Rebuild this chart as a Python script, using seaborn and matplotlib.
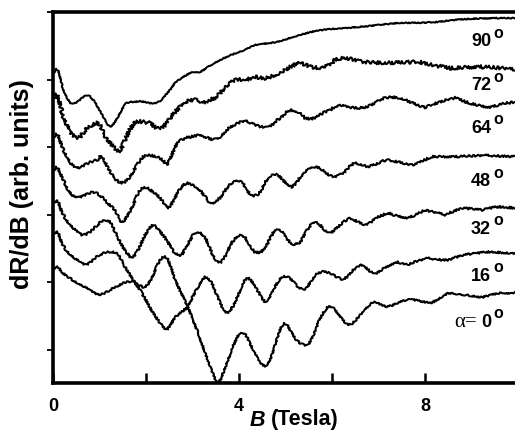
import numpy as np
import pandas as pd
import seaborn as sns
import matplotlib.pyplot as plt

# (field in Tesla, offset dR/dB in arb. units) for each tilt angle alpha
trace_90 = [(0.02, 4.10), (0.07, 4.16), (0.12, 4.12), (0.22, 3.85), (0.30, 3.73), (0.37, 3.65),
            (0.43, 3.64), (0.50, 3.66), (0.58, 3.70), (0.66, 3.75), (0.73, 3.77), (0.80, 3.75),
            (0.90, 3.67), (0.99, 3.56), (1.08, 3.45), (1.16, 3.35), (1.23, 3.30), (1.30, 3.34),
            (1.40, 3.45), (1.49, 3.57), (1.57, 3.65), (1.66, 3.67), (1.76, 3.67), (1.87, 3.68),
            (1.98, 3.67), (2.09, 3.65), (2.19, 3.65), (2.27, 3.67), (2.34, 3.70), (2.43, 3.78),
            (2.52, 3.85), (2.62, 3.95), (2.78, 4.03), (2.95, 4.10), (3.05, 4.11), (3.16, 4.11),
            (3.32, 4.18), (3.48, 4.25), (3.65, 4.31), (3.81, 4.36), (3.97, 4.40), (4.13, 4.44),
            (4.34, 4.51), (4.50, 4.53), (4.67, 4.54), (4.83, 4.56), (4.99, 4.59), (5.15, 4.63),
            (5.31, 4.66), (5.52, 4.70), (5.74, 4.73), (6.00, 4.75), (6.28, 4.76), (6.60, 4.78),
            (7.03, 4.81), (7.46, 4.84), (7.85, 4.84), (8.22, 4.85), (8.60, 4.88), (8.97, 4.90),
            (9.51, 4.91), (9.94, 4.91)]

trace_72 = [(0.02, 3.73), (0.07, 3.79), (0.12, 3.72), (0.22, 3.45), (0.30, 3.32), (0.37, 3.22),
            (0.47, 3.14), (0.58, 3.15), (0.69, 3.25), (0.78, 3.30), (0.84, 3.33), (0.95, 3.36),
            (1.02, 3.31), (1.08, 3.22), (1.15, 3.13), (1.23, 3.06), (1.32, 3.00), (1.40, 2.93),
            (1.47, 2.98), (1.55, 3.11), (1.65, 3.26), (1.76, 3.37), (1.88, 3.38), (1.98, 3.37),
            (2.09, 3.36), (2.17, 3.31), (2.24, 3.28), (2.30, 3.29), (2.37, 3.30), (2.45, 3.36),
            (2.52, 3.43), (2.62, 3.52), (2.73, 3.60), (2.84, 3.67), (2.95, 3.70), (3.05, 3.70),
            (3.16, 3.68), (3.27, 3.67), (3.38, 3.70), (3.48, 3.73), (3.59, 3.80), (3.70, 3.89),
            (3.81, 3.95), (3.91, 3.99), (4.02, 4.00), (4.13, 3.99), (4.24, 4.02), (4.34, 4.04),
            (4.45, 4.03), (4.56, 4.02), (4.67, 4.04), (4.77, 4.07), (4.92, 4.11), (5.01, 4.15),
            (5.10, 4.19), (5.20, 4.22), (5.31, 4.25), (5.42, 4.22), (5.53, 4.19), (5.63, 4.18),
            (5.74, 4.17), (5.85, 4.19), (5.96, 4.22), (6.06, 4.29), (6.17, 4.31), (6.28, 4.32),
            (6.39, 4.31), (6.49, 4.29), (6.60, 4.27), (6.71, 4.26), (6.92, 4.25), (7.14, 4.25),
            (7.35, 4.25), (7.60, 4.26), (7.89, 4.26), (8.20, 4.21), (8.54, 4.17), (8.85, 4.18),
            (9.18, 4.19), (9.45, 4.18), (9.72, 4.17), (9.94, 4.14)]

trace_64 = [(0.02, 3.15), (0.07, 3.20), (0.12, 3.16), (0.22, 2.96), (0.30, 2.86), (0.37, 2.77),
            (0.45, 2.71), (0.52, 2.69), (0.60, 2.70), (0.69, 2.74), (0.80, 2.78), (0.90, 2.80),
            (0.97, 2.82), (1.01, 2.86), (1.06, 2.85), (1.12, 2.78), (1.18, 2.69), (1.26, 2.60),
            (1.33, 2.54), (1.41, 2.49), (1.48, 2.47), (1.55, 2.49), (1.66, 2.56), (1.74, 2.66),
            (1.81, 2.74), (1.88, 2.81), (1.94, 2.86), (2.02, 2.88), (2.09, 2.88), (2.16, 2.87),
            (2.24, 2.86), (2.31, 2.83), (2.37, 2.80), (2.45, 2.74), (2.53, 2.84), (2.62, 3.00),
            (2.70, 3.08), (2.77, 3.11), (2.86, 3.14), (2.95, 3.15), (3.05, 3.17), (3.16, 3.18),
            (3.25, 3.16), (3.33, 3.14), (3.44, 3.11), (3.52, 3.12), (3.59, 3.15), (3.70, 3.23),
            (3.81, 3.30), (3.90, 3.33), (3.98, 3.36), (4.06, 3.38), (4.13, 3.40), (4.24, 3.36),
            (4.34, 3.33), (4.45, 3.30), (4.56, 3.30), (4.64, 3.31), (4.71, 3.33), (4.82, 3.40),
            (4.92, 3.45), (5.02, 3.52), (5.10, 3.55), (5.20, 3.54), (5.31, 3.51), (5.42, 3.43),
            (5.53, 3.42), (5.63, 3.43), (5.74, 3.48), (5.85, 3.52), (5.96, 3.55), (6.06, 3.60),
            (6.17, 3.62), (6.30, 3.60), (6.49, 3.58), (6.60, 3.58), (6.71, 3.59), (6.82, 3.62),
            (6.92, 3.65), (7.03, 3.70), (7.14, 3.73), (7.29, 3.74), (7.46, 3.73), (7.58, 3.70),
            (7.68, 3.67), (7.85, 3.62), (8.00, 3.59), (8.15, 3.63), (8.32, 3.67), (8.50, 3.71),
            (8.65, 3.73), (8.80, 3.69), (8.97, 3.65), (9.20, 3.61), (9.40, 3.59), (9.55, 3.62),
            (9.72, 3.65), (9.94, 3.67)]

trace_48 = [(0.02, 2.66), (0.07, 2.71), (0.12, 2.67), (0.19, 2.56), (0.26, 2.46), (0.32, 2.37),
            (0.40, 2.30), (0.47, 2.26), (0.58, 2.26), (0.69, 2.29), (0.78, 2.32), (0.86, 2.34),
            (0.94, 2.32), (1.01, 2.29), (1.10, 2.23), (1.18, 2.17), (1.29, 2.10), (1.36, 2.03),
            (1.43, 1.94), (1.48, 1.89), (1.54, 1.92), (1.61, 2.00), (1.67, 2.07), (1.72, 2.14),
            (1.78, 2.24), (1.83, 2.32), (1.89, 2.38), (1.94, 2.40), (2.02, 2.40), (2.09, 2.37),
            (2.17, 2.33), (2.24, 2.29), (2.31, 2.24), (2.37, 2.19), (2.43, 2.12), (2.48, 2.10),
            (2.54, 2.15), (2.62, 2.25), (2.72, 2.37), (2.82, 2.45), (2.90, 2.47), (2.98, 2.45),
            (3.08, 2.40), (3.16, 2.37), (3.26, 2.28), (3.34, 2.20), (3.42, 2.17), (3.50, 2.20),
            (3.59, 2.25), (3.70, 2.36), (3.80, 2.45), (3.90, 2.49), (4.00, 2.50), (4.08, 2.47),
            (4.16, 2.38), (4.24, 2.30), (4.32, 2.28), (4.40, 2.30), (4.48, 2.36), (4.56, 2.48),
            (4.64, 2.56), (4.74, 2.60), (4.84, 2.59), (4.94, 2.52), (5.04, 2.44), (5.14, 2.41),
            (5.22, 2.46), (5.32, 2.56), (5.42, 2.63), (5.53, 2.69), (5.63, 2.71), (5.74, 2.69),
            (5.85, 2.63), (5.96, 2.58), (6.06, 2.56), (6.17, 2.59), (6.28, 2.64), (6.40, 2.73),
            (6.49, 2.77), (6.60, 2.75), (6.77, 2.71), (6.95, 2.75), (7.10, 2.80), (7.20, 2.81),
            (7.35, 2.79), (7.46, 2.78), (7.60, 2.75), (7.78, 2.74), (7.95, 2.80), (8.15, 2.86),
            (8.40, 2.86), (8.65, 2.86), (8.95, 2.87), (9.29, 2.88), (9.60, 2.87), (9.94, 2.86)]

trace_32 = [(0.02, 2.18), (0.07, 2.22), (0.12, 2.18), (0.19, 2.04), (0.28, 1.93), (0.37, 1.85),
            (0.50, 1.76), (0.62, 1.70), (0.72, 1.71), (0.80, 1.75), (0.88, 1.80), (0.95, 1.85),
            (1.04, 1.90), (1.12, 1.92), (1.18, 1.92), (1.23, 1.89), (1.28, 1.83), (1.33, 1.75),
            (1.40, 1.66), (1.48, 1.55), (1.57, 1.45), (1.66, 1.38), (1.73, 1.38), (1.81, 1.45),
            (1.90, 1.58), (1.98, 1.70), (2.07, 1.80), (2.15, 1.85), (2.22, 1.82), (2.30, 1.75),
            (2.39, 1.68), (2.47, 1.60), (2.55, 1.50), (2.62, 1.43), (2.70, 1.40), (2.77, 1.41),
            (2.86, 1.52), (2.95, 1.63), (3.03, 1.72), (3.10, 1.75), (3.18, 1.73), (3.27, 1.67),
            (3.35, 1.55), (3.42, 1.43), (3.49, 1.34), (3.55, 1.29), (3.62, 1.30), (3.70, 1.38),
            (3.81, 1.55), (3.90, 1.64), (3.98, 1.69), (4.06, 1.70), (4.13, 1.67), (4.20, 1.59),
            (4.27, 1.50), (4.34, 1.45), (4.45, 1.44), (4.56, 1.50), (4.66, 1.64), (4.77, 1.78),
            (4.85, 1.78), (4.92, 1.75), (5.02, 1.66), (5.10, 1.58), (5.20, 1.56), (5.31, 1.59),
            (5.45, 1.76), (5.59, 1.89), (5.67, 1.88), (5.74, 1.85), (5.85, 1.77), (5.96, 1.73),
            (6.10, 1.80), (6.25, 1.90), (6.39, 1.95), (6.55, 1.90), (6.71, 1.85), (6.85, 1.90),
            (7.00, 1.97), (7.20, 2.03), (7.35, 1.99), (7.50, 1.97), (7.63, 1.95), (7.80, 2.00),
            (8.00, 2.07), (8.20, 2.04), (8.43, 2.00), (8.60, 2.05), (8.80, 2.10), (9.00, 2.09),
            (9.23, 2.07), (9.40, 2.10), (9.57, 2.12), (9.75, 2.11), (9.94, 2.10)]

trace_16 = [(0.02, 1.72), (0.07, 1.76), (0.12, 1.72), (0.19, 1.58), (0.28, 1.48), (0.37, 1.41),
            (0.48, 1.35), (0.58, 1.30), (0.66, 1.27), (0.73, 1.26), (0.81, 1.30), (0.90, 1.36),
            (1.00, 1.41), (1.08, 1.43), (1.18, 1.45), (1.27, 1.45), (1.34, 1.44), (1.40, 1.41),
            (1.48, 1.32), (1.55, 1.23), (1.64, 1.13), (1.72, 1.04), (1.80, 0.96), (1.87, 0.89),
            (1.98, 0.76), (2.09, 0.62), (2.20, 0.50), (2.30, 0.40), (2.38, 0.33), (2.45, 0.30),
            (2.55, 0.40), (2.65, 0.50), (2.78, 0.57), (2.90, 0.64), (3.01, 0.80), (3.12, 0.93),
            (3.20, 1.04), (3.27, 1.08), (3.34, 1.06), (3.42, 0.99), (3.50, 0.85), (3.59, 0.70),
            (3.67, 0.59), (3.74, 0.55), (3.81, 0.58), (3.89, 0.67), (3.96, 0.78), (4.05, 0.93),
            (4.13, 1.04), (4.19, 1.07), (4.26, 1.03), (4.33, 0.95), (4.39, 0.89), (4.48, 0.78),
            (4.56, 0.71), (4.63, 0.74), (4.70, 0.83), (4.77, 0.93), (4.87, 1.04), (4.95, 1.09),
            (5.03, 1.09), (5.10, 1.06), (5.18, 1.00), (5.27, 0.93), (5.38, 0.89), (5.46, 0.92),
            (5.55, 1.02), (5.63, 1.10), (5.70, 1.14), (5.82, 1.16), (5.96, 1.14), (6.08, 1.09),
            (6.22, 1.04), (6.32, 1.08), (6.45, 1.18), (6.60, 1.26), (6.72, 1.22), (6.85, 1.15),
            (6.97, 1.14), (7.10, 1.20), (7.25, 1.26), (7.42, 1.30), (7.55, 1.27), (7.63, 1.26),
            (7.80, 1.31), (8.06, 1.36), (8.25, 1.34), (8.49, 1.33), (8.65, 1.37), (8.86, 1.41),
            (9.10, 1.43), (9.30, 1.45), (9.44, 1.45), (9.65, 1.44), (9.94, 1.43)]

trace_0 = [(0.02, 1.20), (0.07, 1.24), (0.12, 1.22), (0.19, 1.15), (0.30, 1.09), (0.41, 1.04),
           (0.55, 0.98), (0.69, 0.93), (0.83, 0.87), (0.97, 0.81), (1.10, 0.84), (1.23, 0.89),
           (1.37, 0.94), (1.51, 0.99), (1.62, 1.01), (1.72, 1.01), (1.80, 0.99), (1.87, 0.96),
           (1.93, 0.93), (1.98, 0.93), (2.05, 0.98), (2.13, 1.07), (2.22, 1.22), (2.30, 1.33),
           (2.36, 1.37), (2.41, 1.38), (2.47, 1.34), (2.55, 1.20), (2.62, 1.04), (2.76, 0.84),
           (2.90, 0.64), (3.01, 0.45), (3.12, 0.25), (3.23, 0.04), (3.33, -0.15), (3.43, -0.34),
           (3.50, -0.45), (3.55, -0.48), (3.61, -0.43), (3.68, -0.30), (3.76, -0.15), (3.86, 0.04),
           (3.96, 0.19), (4.02, 0.24), (4.08, 0.25), (4.15, 0.22), (4.22, 0.12), (4.32, -0.02),
           (4.42, -0.15), (4.50, -0.22), (4.56, -0.24), (4.63, -0.20), (4.72, -0.05), (4.82, 0.17),
           (4.90, 0.33), (4.97, 0.40), (5.04, 0.37), (5.12, 0.27), (5.22, 0.16), (5.32, 0.10),
           (5.42, 0.07), (5.50, 0.09), (5.60, 0.22), (5.70, 0.40), (5.80, 0.54), (5.90, 0.63),
           (5.96, 0.65), (6.03, 0.62), (6.13, 0.54), (6.25, 0.43), (6.35, 0.37), (6.42, 0.38),
           (6.52, 0.45), (6.62, 0.53), (6.72, 0.60), (6.85, 0.70), (6.95, 0.71), (7.05, 0.67),
           (7.18, 0.64), (7.30, 0.66), (7.46, 0.71), (7.60, 0.74), (7.72, 0.75), (7.85, 0.73),
           (8.00, 0.71), (8.15, 0.70), (8.30, 0.76), (8.49, 0.84), (8.70, 0.83), (8.92, 0.81),
           (9.10, 0.79), (9.23, 0.78), (9.40, 0.81), (9.57, 0.84), (9.75, 0.84), (9.94, 0.85)]

angles = [90, 72, 64, 48, 32, 16, 0]
traces = [trace_90, trace_72, trace_64, trace_48, trace_32, trace_16, trace_0]
angle_text = ["90", "72", "64", "48", "32", "16", "0"]

df = pd.concat(
    [pd.DataFrame(t, columns=["B", "signal"]).assign(angle=a)
     for a, t in zip(angles, traces)],
    ignore_index=True,
)

sns.set_style("ticks")
plt.rcParams["font.family"] = ["Liberation Sans", "DejaVu Sans"]
plt.rcParams["font.weight"] = "bold"
for key in ["text.color", "axes.labelcolor", "xtick.color", "ytick.color", "axes.edgecolor"]:
    plt.rcParams[key] = "black"

fig = plt.figure(figsize=(5.15, 4.34), dpi=100)
ax = fig.add_axes([53 / 515, 1 - 383 / 434, 465 / 515, 371 / 434])

sns.lineplot(
    data=df, x="B", y="signal", hue="angle", hue_order=angles,
    palette=["black"] * len(angles), estimator=None, sort=False,
    legend=False, linewidth=1.45, ax=ax,
)

# measurement noise texture: the 72 degree sweep is the noisiest, 90 the cleanest
noise = {90: 0.5, 72: 1.7, 64: 1.1, 48: 1.0, 32: 1.0, 16: 0.9, 0: 0.8}
for line, a in zip(ax.lines, angles):
    line.set_sketch_params(scale=noise[a], length=2.0, randomness=3)
    line.set_solid_joinstyle("round")
    line.set_solid_capstyle("round")

ax.set_xlim(0, 10)
ax.set_ylim(-0.488, 5.0)

ax.set_xticks([0, 2, 4, 6, 8])
ax.set_xticklabels(["0", "", "4", "", "8"], fontsize=13, fontweight="bold")
ax.set_yticks([0, 1, 2, 3, 4, 5])
ax.set_yticklabels([])
ax.tick_params(axis="x", direction="in", length=7, width=1.8, pad=11, bottom=True)
ax.tick_params(axis="y", direction="out", length=4, width=1.3, left=True)

for side in ["left", "bottom", "top"]:
    ax.spines[side].set_linewidth(2.6)
ax.spines["right"].set_visible(False)

ax.set_ylabel("dR/dB (arb. units)", fontsize=18, fontweight="bold")
ax.yaxis.set_label_coords(-0.040, 0.535)
ax.set_xlabel("")
fig.text(250 / 515, 1 - 420 / 434, "B", fontsize=15.5, fontweight="bold",
         style="italic", ha="left", va="center")
fig.text(339 / 515, 1 - 420 / 434, "(Tesla)", fontsize=15.5, fontweight="bold",
         ha="right", va="center")

# angle annotations on the right-hand side
label_y = [4.57, 3.91, 3.27, 2.50, 1.79, 1.09, 0.41]
deg_y = [4.68, 4.03, 3.41, 2.61, 1.92, 1.22, 0.54]
for txt, ly, dy in zip(angle_text, label_y, deg_y):
    ax.text(9.42, ly, txt, fontsize=13, fontweight="bold", ha="right", va="center")
    ax.text(9.57, dy, "o", fontsize=11.5, fontweight="bold", ha="center", va="center")
ax.text(9.12, 0.41, "α=", fontsize=15, fontweight="normal",
        family=["Liberation Serif", "DejaVu Serif"], ha="right", va="center")

fig.savefig("out.png", dpi=100)
